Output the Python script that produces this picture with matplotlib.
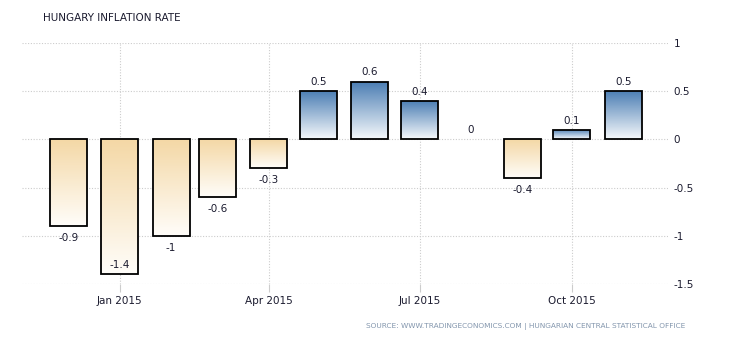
import numpy as np
import matplotlib
matplotlib.use("Agg")
import matplotlib.pyplot as plt
import matplotlib.dates as mdates
from matplotlib.colors import LinearSegmentedColormap
from matplotlib.patches import Rectangle
import datetime as dt

months = ["2014-12", "2015-01", "2015-02", "2015-03", "2015-04", "2015-05",
          "2015-06", "2015-07", "2015-08", "2015-09", "2015-10", "2015-11"]
values = [-0.9, -1.4, -1.0, -0.6, -0.3, 0.5, 0.6, 0.4, 0.0, -0.4, 0.1, 0.5]
labels = ["-0.9", "-1.4", "-1", "-0.6", "-0.3", "0.5", "0.6", "0.4", "0", "-0.4", "0.1", "0.5"]
yticks = [1, 0.5, 0, -0.5, -1, -1.5]
ytick_labels = ["1", "0.5", "0", "-0.5", "-1", "-1.5"]

dates = [mdates.date2num(dt.datetime.strptime(m, "%Y-%m")) for m in months]

blue = LinearSegmentedColormap.from_list("blue", ["#f5f8fb", "#4a7db3"])
tan = LinearSegmentedColormap.from_list("tan", ["#fffdf9", "#f4d8a6"])

txt = "#1b1b2f"
ymin, ymax = -1.5, 1
fig = plt.figure(figsize=(7.3, 3.4), dpi=100)
ax = fig.add_axes([22 / 730, 1 - 284 / 340, 646 / 730, 241 / 340])

width = 22.3
grad = np.linspace(0, 1, 100).reshape(-1, 1)
for x, v, lab in zip(dates, values, labels):
    x0 = x - width / 2
    if v > 0:
        img = ax.imshow(grad, cmap=blue, origin="lower", aspect="auto",
                        extent=(x0, x0 + width, 0, v), zorder=2)
    elif v < 0:
        img = ax.imshow(grad, cmap=tan, origin="lower", aspect="auto",
                        extent=(x0, x0 + width, v, 0), zorder=2)
    if v != 0:
        rect = Rectangle((x0, min(v, 0)), width, abs(v), fill=False,
                         edgecolor="black", linewidth=1.3, zorder=3)
        ax.add_patch(rect)
        img.set_clip_path(rect)
    if v >= 0:
        ax.annotate(lab, (x, v), xytext=(0, 3), textcoords="offset points",
                    ha="center", va="bottom", fontsize=7.5, color=txt, zorder=4)
    elif v - 0.2 < ymin:
        # no room below the bar: put the value just inside its bottom edge
        ax.annotate(lab, (x, v), xytext=(0, 3), textcoords="offset points",
                    ha="center", va="bottom", fontsize=7.5, color=txt, zorder=4)
    else:
        ax.annotate(lab, (x, v), xytext=(0, -5), textcoords="offset points",
                    ha="center", va="top", fontsize=7.5, color=txt, zorder=4)

ax.set_xlim(mdates.date2num(dt.datetime(2014, 11, 3)),
            mdates.date2num(dt.datetime(2015, 11, 28)))
ax.set_ylim(ymin, ymax)
ax.xaxis.set_major_locator(mdates.MonthLocator(bymonth=[1, 4, 7, 10]))
ax.xaxis.set_major_formatter(mdates.DateFormatter("%b %Y"))
ax.set_yticks(yticks)
ax.set_yticklabels(ytick_labels)
ax.yaxis.tick_right()
ax.grid(True, color="#cccccc", linestyle=(0, (1, 1.5)), linewidth=0.8, zorder=0)
ax.set_axisbelow(True)
for s in ax.spines.values():
    s.set_visible(False)
ax.tick_params(axis="y", length=0, pad=4, labelsize=7.5, labelcolor=txt)
ax.tick_params(axis="x", length=6, color="#cccccc", width=0.8, pad=3,
               labelsize=7.5, labelcolor=txt)

fig.text(43 / 730, 1 - 18 / 340, "HUNGARY INFLATION RATE", fontsize=7.5,
         color=txt, va="center", ha="left")
fig.text(685 / 730, 1 - 326 / 340,
         "SOURCE: WWW.TRADINGECONOMICS.COM | HUNGARIAN CENTRAL STATISTICAL OFFICE",
         fontsize=5.3, color="#8396ad", va="center", ha="right")

fig.savefig("out.png", dpi=100)
